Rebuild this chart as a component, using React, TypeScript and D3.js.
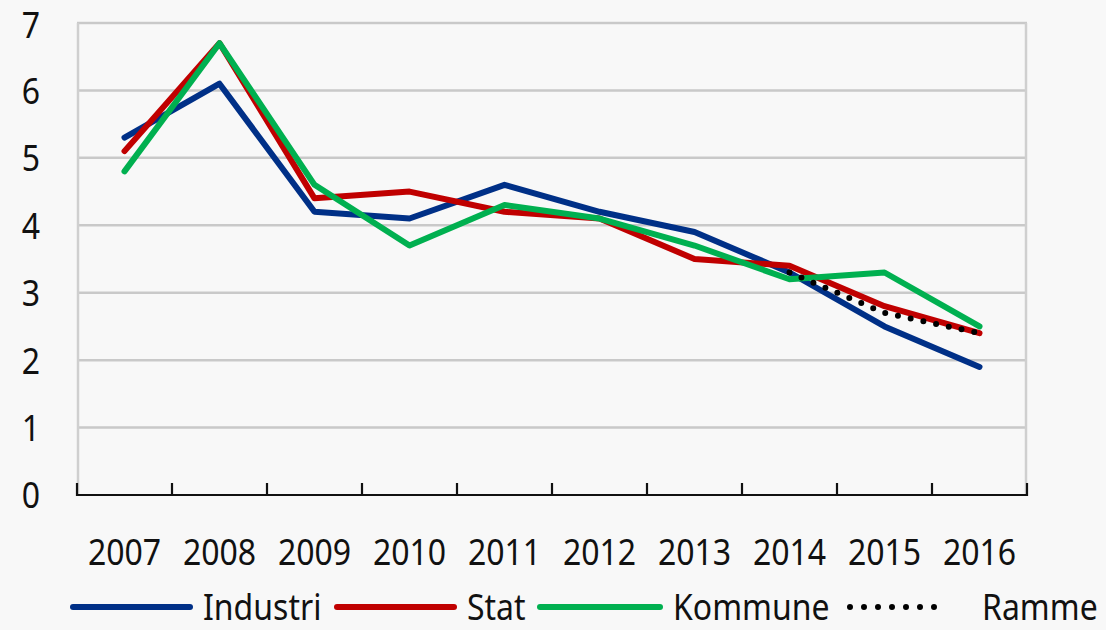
import React from 'react';
import * as d3 from 'd3';

const years = ['2007', '2008', '2009', '2010', '2011', '2012', '2013', '2014', '2015', '2016'];
const industri = [5.3, 6.1, 4.2, 4.1, 4.6, 4.2, 3.9, 3.3, 2.5, 1.9];
const stat = [5.1, 6.7, 4.4, 4.5, 4.2, 4.1, 3.5, 3.4, 2.8, 2.4];
const kommune = [4.8, 6.7, 4.6, 3.7, 4.3, 4.1, 3.7, 3.2, 3.3, 2.5];
const ramme = [null, null, null, null, null, null, null, 3.3, 2.7, 2.4];
const yTicks = [0, 1, 2, 3, 4, 5, 6, 7];

const W = 1106;
const H = 630;
const FONT = "'Noto Sans', 'Open Sans', sans-serif";
const SY = 1.16;

const series = [
  { name: 'Industri', values: industri, color: '#003087', dotted: false },
  { name: 'Stat', values: stat, color: '#C00000', dotted: false },
  { name: 'Kommune', values: kommune, color: '#00B050', dotted: false },
  { name: 'Ramme', values: ramme, color: '#000000', dotted: true },
];

// legend slots: line start/end and text start
const legendPos = [
  { x1: 73, x2: 190, tx: 203 },
  { x1: 337, x2: 454, tx: 467 },
  { x1: 540, x2: 660, tx: 673 },
  { x1: 850, x2: 948, tx: 982 },
];

const App = () => {
  const x = d3.scaleBand<string>().domain(years).range([77, 1027]).padding(0);
  const y = d3.scaleLinear().domain([0, 7]).range([495, 23]);
  const cx = (yr: string) => (x(yr) as number) + x.bandwidth() / 2;

  const line = d3
    .line<number | null>()
    .defined((d) => d !== null)
    .x((d, i) => cx(years[i]))
    .y((d) => y(d as number));

  const boundaries = years.map((yr) => x(yr) as number).concat([1027]);

  return (
    <svg
      width={W}
      height={H}
      style={{ position: 'absolute', left: 0, top: 0, display: 'block', background: '#f8f8f8' }}
      fontFamily={FONT}
    >
      <rect x={0} y={0} width={W} height={H} fill="#f8f8f8" />

      {/* gridlines */}
      {yTicks.filter((t) => t > 0).map((t) => (
        <line key={t} x1={77} x2={1027} y1={y(t)} y2={y(t)} stroke="#c9c9c9" strokeWidth={2.5} />
      ))}
      <line x1={78} x2={78} y1={y(7)} y2={495} stroke="#cfcfcf" strokeWidth={2.5} />
      <line x1={1026} x2={1026} y1={y(7)} y2={495} stroke="#cfcfcf" strokeWidth={2.5} />

      {/* x axis */}
      <line x1={77} x2={1027} y1={495} y2={495} stroke="#111" strokeWidth={2.2} />
      {boundaries.map((b, i) => (
        <line key={i} x1={b} x2={b} y1={483} y2={496} stroke="#111" strokeWidth={2.2} />
      ))}

      {/* y labels */}
      {yTicks.map((t) => (
        <text
          key={t}
          transform={`translate(31,${Math.max(y(t), 25)}) scale(1,${SY})`}
          dy="0.36em"
          textAnchor="middle"
          fontSize={32}
          fill="#111"
        >
          {t}
        </text>
      ))}

      {/* x labels */}
      {years.map((yr) => (
        <text
          key={yr}
          transform={`translate(${cx(yr)},565) scale(1,${SY})`}
          textAnchor="middle"
          fontSize={32}
          fill="#111"
        >
          {yr}
        </text>
      ))}

      {/* series */}
      {series.map((s) => (
        <path
          key={s.name}
          d={line(s.values) || ''}
          fill="none"
          stroke={s.color}
          strokeWidth={6}
          strokeLinecap="round"
          strokeLinejoin="round"
          strokeDasharray={s.dotted ? '0 13' : undefined}
        />
      ))}

      {/* legend */}
      {series.map((s, i) => (
        <g key={s.name}>
          <line
            x1={legendPos[i].x1}
            x2={legendPos[i].x2}
            y1={607}
            y2={607}
            stroke={s.color}
            strokeWidth={6}
            strokeLinecap="round"
            strokeDasharray={s.dotted ? '0 14' : undefined}
          />
          <text
            transform={`translate(${legendPos[i].tx},620) scale(1,1.12)`}
            fontSize={32}
            fill="#111"
          >
            {s.name}
          </text>
        </g>
      ))}
    </svg>
  );
};

export default App;
